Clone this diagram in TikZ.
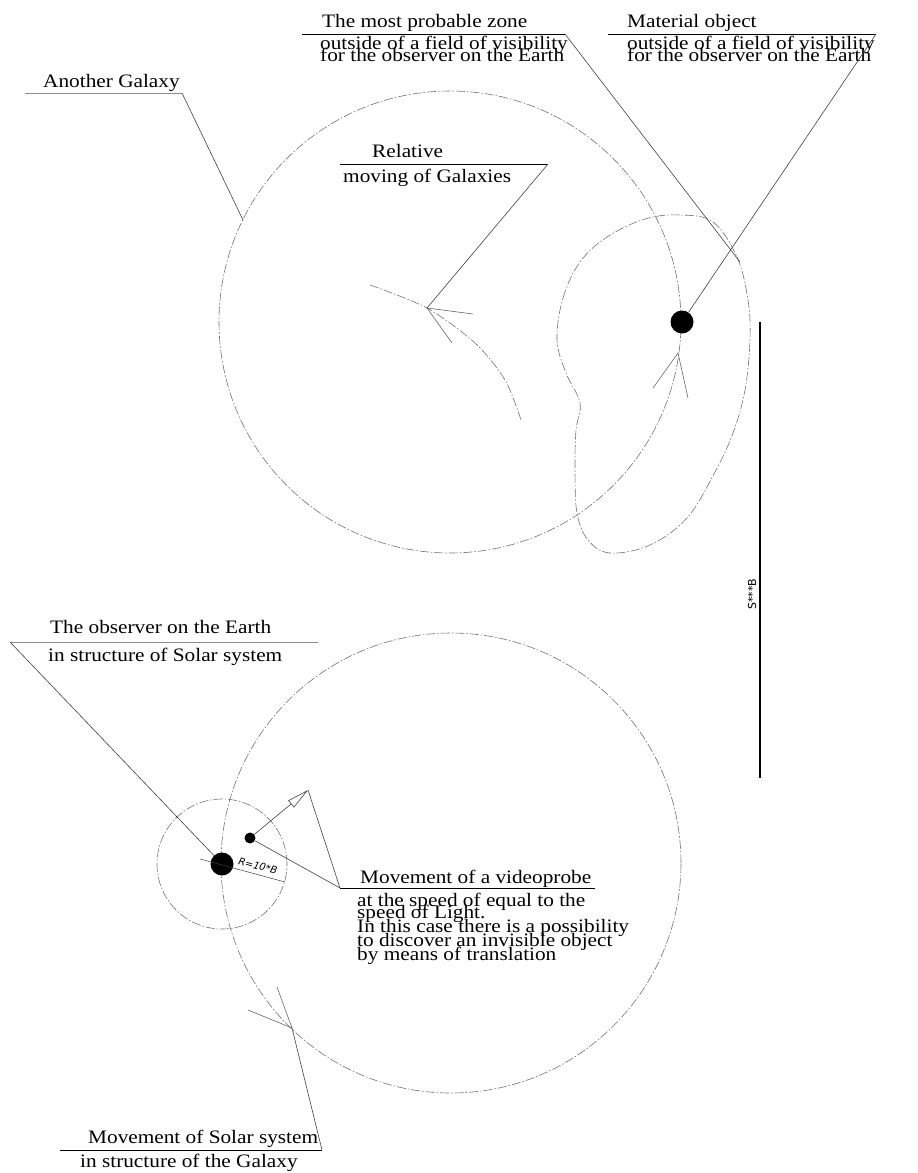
\documentclass[tikz,border=0pt]{standalone}
\usepackage{fontspec}
\setmainfont{Liberation Serif}[FakeStretch=1.12]
\setsansfont{DejaVu Sans}
\usetikzlibrary{arrows.meta}
\begin{document}
\begin{tikzpicture}[x=1pt,y=-1pt,
  cl/.style={draw=black!55, line width=0.6pt, dash pattern=on 9pt off 2pt on 1.5pt off 2pt},
  ld/.style={draw=black!75, line width=0.6pt},
  ul/.style={draw=black, line width=1pt},
  ulg/.style={draw=black!45, line width=1pt},
  lbl/.style={inner sep=0pt, anchor=base west, font=\fontsize{19}{13}\selectfont},
  dotb/.style={circle, fill=black, inner sep=0pt},
  ahd/.style={draw=black!60, line width=0.6pt},
  cad/.style={inner sep=0pt, font=\sffamily\fontsize{11}{11}\selectfont},
]
\useasboundingbox (0,0) rectangle (918,1173);
% ---------- upper figure ----------
\coordinate (gc) at (450,322);
\draw[cl] (gc) circle[radius=231pt];
\draw[cl] plot[smooth cycle, tension=0.6] coordinates {(557,340) (563,298) (580,262) (607,237) (645,219) (680,215) (713,222) (737,257) (748,300) (750,340) (745,390) (733,433) (715,472) (687,518) (650,545) (610,553) (588,540) (577,513) (575,470) (576,430) (580,403) (566,373)};
\draw[cl] plot[smooth] coordinates {(370,285) (427,308) (475,343) (505,380) (521,420)};
\draw[ahd] (473,314) -- (427,308) -- (452,343);
\draw[ahd] (653,388) -- (678,353) -- (688,398);
% labels top
\node[lbl] (mpz) at (322,27) {The most probable zone};
\node[lbl] (mpz2) at (320,49) {outside of a field of visibility};
\node[lbl] (mpz3) at (320,61.5) {for the observer on the Earth};
\coordinate (mpzL) at (302,34); \coordinate (mpzR) at (565,34);
\draw[ul] (mpzL) -- (mpzR);
\coordinate (zoneP) at (740,262);
\draw[ld] (mpzR) -- (zoneP);

\node[lbl] (mo) at (627,27) {Material object};
\node[lbl] (mo2) at (627,49) {outside of a field of visibility};
\node[lbl] (mo3) at (627,61.5) {for the observer on the Earth};
\coordinate (moL) at (608,34); \coordinate (moR) at (876,34);
\draw[ul] (moL) -- (moR);
\node[dotb, minimum size=23pt] (mobj) at (682,322) {};
\draw[ld] (moR) -- (mobj);

\node[lbl] (ag) at (43,87) {Another Galaxy};
\coordinate (agL) at (25,93); \coordinate (agR) at (182,93);
\draw[ulg] (agL) -- (agR);
\coordinate (agP) at (243,220);
\draw[ld] (agR) -- (agP);

\node[lbl] (rel) at (372,157) {Relative};
\node[lbl] (rel2) at (343,182) {moving of Galaxies};
\coordinate (relL) at (340,164); \coordinate (relR) at (548,164);
\draw[ul] (relL) -- (relR);
\coordinate (relP) at (427,308);
\draw[ld] (relR) -- (relP);

% scale bar
\coordinate (sbT) at (760,322); \coordinate (sbB) at (760,778);
\draw[black, line width=1.2pt] (sbT) -- (sbB);
\node[cad, rotate=90] (sblab) at (752,594) {S***B};

% ---------- lower figure ----------
\coordinate (sc) at (451,863);
\draw[cl] (sc) circle[radius=230pt];
\node[dotb, minimum size=23pt] (earth) at (222,864) {};
\draw[cl] (earth.center) circle[radius=65pt];
\coordinate (dimA) at (200,859); \coordinate (dimB) at (285,882);
\draw[ld, line width=0.5pt] (dimA) -- (dimB);
\node[cad, rotate=-15, font=\sffamily\itshape\fontsize{10}{10}\selectfont] (rlab) at (258,866) {R=10*B};
\node[dotb, minimum size=11pt] (probe) at (250,838) {};
\coordinate (probeTip) at (308,790);
\draw[ld, -{Triangle[open, length=22pt, width=9pt]}] (probe) -- (probeTip);
\draw[ahd] (248,1010) -- (292,1028) -- (277,987);

\node[lbl] (obs) at (50,633) {The observer on the Earth};
\node[lbl] (obs2) at (48,661) {in structure of Solar system};
\coordinate (obsL) at (10,642); \coordinate (obsR) at (318,642);
\draw[ulg] (obsL) -- (obsR);
\draw[ld] (obsL) -- (earth);

\node[lbl] (vid) at (360,883) {Movement of a videoprobe};
\coordinate (vidL) at (340,888); \coordinate (vidR) at (595,888);
\draw[ul] (vidL) -- (vidR);
\node[lbl] (vid2) at (357,906) {at the speed of equal to the};
\node[lbl] (vid3) at (357,918.5) {speed of Light.};
\node[lbl] (vid4) at (357,932.5) {In this case there is a possibility};
\node[lbl] (vid5) at (357,946.5) {to discover an invisible object};
\node[lbl] (vid6) at (357,960.5) {by means of translation};
\draw[ld] (vidL) -- (probeTip);
\draw[ld] (vidL) -- (probe);

\node[lbl] (sol) at (88,1143) {Movement of Solar system};
\node[lbl] (sol2) at (80,1167) {in structure of the Galaxy};
\coordinate (solL) at (60,1150); \coordinate (solR) at (322,1150);
\draw[ul] (solL) -- (solR);
\coordinate (solP) at (292,1028);
\draw[ld] (solR) -- (solP);
\end{tikzpicture}
\end{document}
